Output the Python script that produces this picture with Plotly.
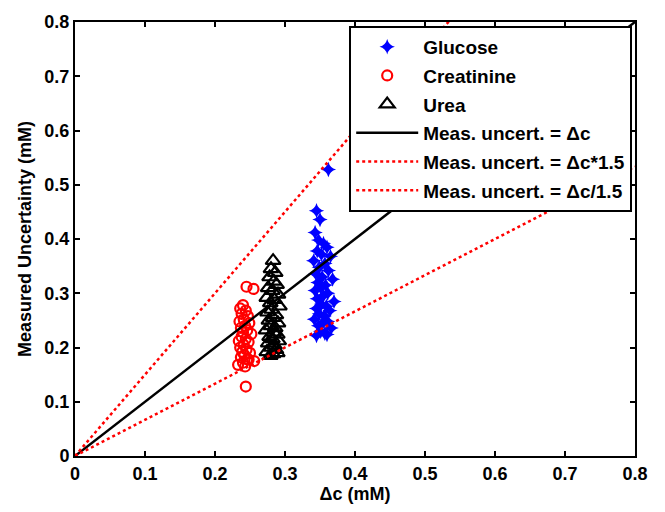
import plotly.graph_objects as go

glucose_x = [0.362, 0.345, 0.350, 0.343, 0.348, 0.355, 0.360, 0.346, 0.352, 0.365, 0.341, 0.357, 0.349, 0.362,
             0.344, 0.353, 0.368, 0.347, 0.358, 0.351, 0.343, 0.361, 0.355, 0.346, 0.370, 0.352, 0.359, 0.345,
             0.364, 0.349, 0.356, 0.342, 0.361, 0.353, 0.348, 0.366, 0.351, 0.357, 0.345, 0.360]
glucose_y = [0.528, 0.452, 0.436, 0.412, 0.398, 0.392, 0.385, 0.378, 0.372, 0.368, 0.360, 0.355, 0.348, 0.342,
             0.336, 0.330, 0.326, 0.320, 0.315, 0.310, 0.305, 0.300, 0.296, 0.290, 0.285, 0.280, 0.276, 0.272,
             0.268, 0.262, 0.258, 0.252, 0.248, 0.244, 0.240, 0.236, 0.230, 0.226, 0.222, 0.224]

creat_x = [0.245, 0.255, 0.240, 0.236, 0.244, 0.238, 0.247, 0.241, 0.235, 0.249, 0.243, 0.237, 0.246, 0.240,
           0.252, 0.238, 0.244, 0.234, 0.248, 0.241, 0.236, 0.245, 0.239, 0.250, 0.242, 0.237, 0.246, 0.256,
           0.240, 0.233, 0.243, 0.248, 0.244]
creat_y = [0.312, 0.308, 0.278, 0.272, 0.268, 0.262, 0.258, 0.252, 0.248, 0.245, 0.240, 0.236, 0.232, 0.228,
           0.225, 0.220, 0.216, 0.212, 0.210, 0.205, 0.200, 0.196, 0.192, 0.190, 0.186, 0.182, 0.178, 0.175,
           0.172, 0.168, 0.165, 0.178, 0.128]

urea_x = [0.283, 0.280, 0.286, 0.278, 0.284, 0.288, 0.276, 0.282, 0.290, 0.274, 0.285, 0.279, 0.292, 0.281,
          0.275, 0.287, 0.283, 0.277, 0.290, 0.280, 0.286, 0.273, 0.284, 0.289, 0.278, 0.282, 0.291, 0.276,
          0.285, 0.280, 0.287, 0.274, 0.283, 0.279, 0.289]
urea_y = [0.360, 0.345, 0.338, 0.330, 0.322, 0.316, 0.310, 0.305, 0.298, 0.292, 0.288, 0.282, 0.276, 0.270,
          0.265, 0.260, 0.255, 0.250, 0.245, 0.240, 0.236, 0.232, 0.228, 0.224, 0.220, 0.216, 0.212, 0.208,
          0.204, 0.200, 0.196, 0.192, 0.188, 0.185, 0.190]

line_x = [0.0, 0.8]
factor_hi = 1.5
factor_lo = 1 / 1.5

tick_vals = [0, 0.1, 0.2, 0.3, 0.4, 0.5, 0.6, 0.7, 0.8]
tick_text = ["0", "0.1", "0.2", "0.3", "0.4", "0.5", "0.6", "0.7", "0.8"]

FONT = "Liberation Sans, Arial, sans-serif"

def b(s):
    return "<b>" + s + "</b>"

fig = go.Figure()
fig.add_trace(go.Scatter(x=glucose_x, y=glucose_y, mode="markers", name=b("Glucose"), legendgroup="a",
                         marker=dict(symbol="star-diamond", size=11, color="#0000ff")))
fig.add_trace(go.Scatter(x=creat_x, y=creat_y, mode="markers", name=b("Creatinine"), legendgroup="b",
                         marker=dict(symbol="circle-open", size=10, color="#ff0000", line=dict(width=2.2))))
fig.add_trace(go.Scatter(x=urea_x, y=urea_y, mode="markers", name=b("Urea"), legendgroup="c",
                         marker=dict(symbol="triangle-up-open", size=13, color="#000000", line=dict(width=2.2))))
fig.add_trace(go.Scatter(x=line_x, y=line_x, mode="lines", name=b("Meas. uncert. = Δc"), legendgroup="d",
                         line=dict(color="black", width=2.5)))
fig.add_trace(go.Scatter(x=line_x, y=[v * factor_hi for v in line_x], mode="lines",
                         name=b("Meas. uncert. = Δc*1.5"), legendgroup="e",
                         line=dict(color="#ff0000", width=2.5, dash="dot")))
fig.add_trace(go.Scatter(x=line_x, y=[v * factor_lo for v in line_x], mode="lines",
                         name=b("Meas. uncert. = Δc/1.5"), legendgroup="f",
                         line=dict(color="#ff0000", width=2.5, dash="dot")))

axis_common = dict(range=[0, 0.8], tickvals=tick_vals, ticktext=[b(t) for t in tick_text], ticks="inside",
                   ticklen=5, tickwidth=2, tickcolor="black", showline=True, linecolor="black", linewidth=2,
                   mirror="ticks", showgrid=False, zeroline=False,
                   tickfont=dict(family=FONT, size=18, color="black"))

fig.update_xaxes(**axis_common, title=dict(text=b("Δc (mM)"), standoff=4,
                                           font=dict(family=FONT, size=18, color="black")))
fig.update_yaxes(**axis_common, title=dict(text=b("Measured Uncertainty (mM)"), standoff=8,
                                           font=dict(family=FONT, size=18, color="black")))

fig.update_layout(
    width=665, height=512,
    margin=dict(l=75, r=30, t=18, b=54),
    plot_bgcolor="white", paper_bgcolor="white",
    showlegend=True,
    legend=dict(x=0.995, y=0.991, xanchor="right", yanchor="top", bgcolor="white",
                bordercolor="black", borderwidth=2, traceorder="grouped", tracegroupgap=1,
                font=dict(family=FONT, size=19, color="black"), itemwidth=62),
)

fig.write_html("out.html")
